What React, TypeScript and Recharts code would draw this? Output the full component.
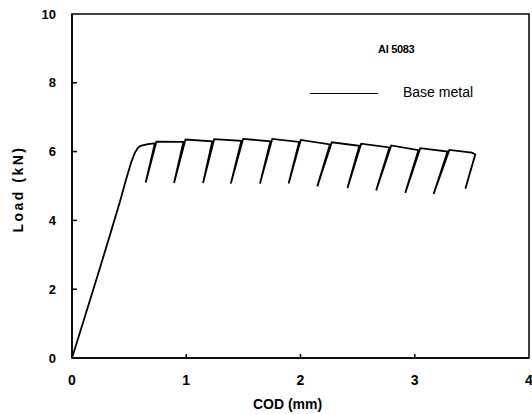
import React from 'react';
import { LineChart, Line, XAxis, YAxis, ReferenceArea, Legend } from 'recharts';

// COD (mm) / Load (kN), in drawing order (loading, then unload/reload loops)
const cod = [
  0, 0.12, 0.241, 0.33, 0.42, 0.47, 0.519, 0.548, 0.575, 0.6, 0.665, 0.725,
  0.645, 0.739, 0.975,
  0.893, 0.993, 1.228,
  1.147, 1.244, 1.482,
  1.39, 1.498, 1.737,
  1.645, 1.753, 1.988,
  1.896, 2.002, 2.258,
  2.147, 2.274, 2.515,
  2.411, 2.531, 2.778,
  2.662, 2.794, 3.032,
  2.917, 3.048, 3.287,
  3.165, 3.303, 3.5, 3.53, 3.443,
];
const load = [
  0, 1.28, 2.58, 3.55, 4.55, 5.15, 5.7, 5.95, 6.1, 6.17, 6.22, 6.24,
  5.1, 6.29, 6.28,
  5.09, 6.35, 6.3,
  5.09, 6.36, 6.31,
  5.07, 6.37, 6.3,
  5.07, 6.37, 6.28,
  5.07, 6.34, 6.21,
  4.99, 6.27, 6.17,
  4.94, 6.23, 6.12,
  4.87, 6.18, 6.04,
  4.8, 6.1, 6.0,
  4.77, 6.05, 5.97, 5.92, 4.92,
];

const xTicks = [0, 1, 2, 3, 4];
const yTicks = [0, 2, 4, 6, 8, 10];
const seriesName = 'Base metal';
const alloy = 'Al 5083';

const data = cod.map((c, i) => ({ cod: c, load: load[i] }));

const FONT = '"Liberation Sans", Arial, sans-serif';
const Y_MARGIN = 16;
const X_MARGIN = 17;

const YTick = (props: any) => {
  const { x, y, payload } = props;
  const ax = x + Y_MARGIN;
  return (
    <g>
      {payload.value > 0 && payload.value < 10 && (
        <line x1={ax} x2={ax + 5} y1={y} y2={y} stroke="#000" strokeWidth={1.5} />
      )}
      <text x={x} y={y} dy="0.355em" textAnchor="end" fontFamily={FONT} fontWeight="bold" fontSize={13} fill="#000">
        {payload.value}
      </text>
    </g>
  );
};

const XTick = (props: any) => {
  const { x, y, payload } = props;
  const ay = y - X_MARGIN;
  return (
    <g>
      {payload.value > 0 && payload.value < 4 && (
        <line x1={x} x2={x} y1={ay} y2={ay - 4} stroke="#000" strokeWidth={1.5} />
      )}
      <text x={x} y={y} dy="0.71em" textAnchor="middle" fontFamily={FONT} fontWeight="bold" fontSize={14} fill="#000">
        {payload.value}
      </text>
    </g>
  );
};

const LegendBox = () => (
  <div style={{ position: 'relative', width: 200, height: 70, fontFamily: FONT, color: '#000' }}>
    <div style={{ position: 'absolute', left: 70, top: 5, fontSize: 11, fontWeight: 'bold', letterSpacing: -0.3 }}>{alloy}</div>
    <div style={{ position: 'absolute', left: 2, top: 55, width: 68, borderTop: '1px solid #000' }} />
    <div style={{ position: 'absolute', left: 95, top: 46, fontSize: 14 }}>{seriesName}</div>
  </div>
);

export default function App() {
  return (
    <div style={{ position: 'absolute', left: 0, top: 0, width: 532, height: 414, overflow: 'hidden', background: '#fff' }}>
      <LineChart width={532} height={414} data={data} margin={{ top: 14, right: 3, bottom: 0, left: 0 }}>
        <XAxis
          dataKey="cod"
          type="number"
          domain={[0, 4]}
          ticks={xTicks}
          interval={0}
          height={56}
          tickSize={0}
          tickMargin={X_MARGIN}
          tickLine={false}
          axisLine={{ stroke: '#000', strokeWidth: 1.5 }}
          tick={<XTick />}
          label={{
            content: (p: any) => {
              const vb = p.viewBox;
              return (
                <text x={vb.x + vb.width / 2 - 13} y={vb.y + 51} textAnchor="middle" fontFamily={FONT} fontWeight="bold" fontSize={14} fill="#000">
                  COD (mm)
                </text>
              );
            },
          }}
        />
        <YAxis
          type="number"
          domain={[0, 10]}
          ticks={yTicks}
          interval={0}
          width={72}
          tickSize={0}
          tickMargin={Y_MARGIN}
          tickLine={false}
          axisLine={{ stroke: '#000', strokeWidth: 1.5 }}
          tick={<YTick />}
          label={{
            content: (p: any) => {
              const vb = p.viewBox;
              const cx = vb.x + 23;
              const cy = vb.y + vb.height / 2 + 3;
              return (
                <text x={cx} y={cy} transform={`rotate(-90 ${cx} ${cy})`} textAnchor="middle" fontFamily={FONT} fontWeight="bold" fontSize={14} letterSpacing={2.5} fill="#000">
                  Load (kN)
                </text>
              );
            },
          }}
        />
        <ReferenceArea x1={0} x2={4} y1={0} y2={10} fill="none" stroke="#000" strokeWidth={1.5} ifOverflow="visible" />
        <Legend
          layout="horizontal"
          verticalAlign="middle"
          align="center"
          wrapperStyle={{ top: 38, left: 308, width: 200, height: 70 }}
          content={<LegendBox />}
        />
        <Line
          type="linear"
          dataKey="load"
          name={seriesName}
          stroke="#000"
          strokeWidth={1.8}
          dot={false}
          activeDot={false}
          isAnimationActive={false}
        />
      </LineChart>
    </div>
  );
}
